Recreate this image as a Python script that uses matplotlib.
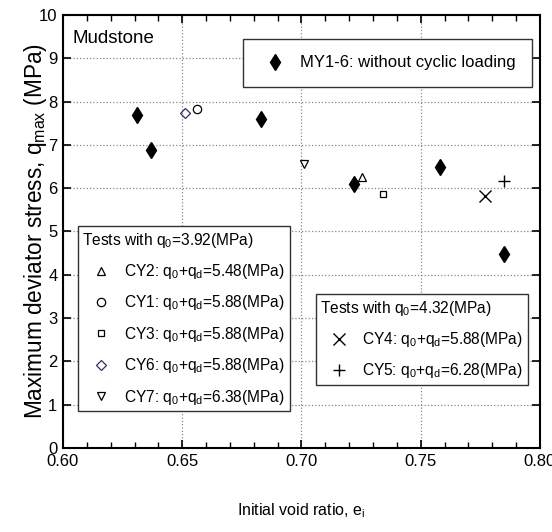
import matplotlib
matplotlib.use("Agg")

import matplotlib.pyplot as plt
from matplotlib.ticker import MultipleLocator, FormatStrFormatter

plt.rcParams["font.family"] = ["Liberation Sans", "DejaVu Sans"]
plt.rcParams["mathtext.fontset"] = "custom"
plt.rcParams["mathtext.rm"] = "Liberation Sans"
plt.rcParams["mathtext.it"] = "Liberation Sans"

# without cyclic loading (MY1-6)
my_void = [0.631, 0.637, 0.683, 0.722, 0.758, 0.785]
my_qmax = [7.68, 6.88, 7.60, 6.09, 6.50, 4.48]

# tests with q0 = 3.92 MPa
cy_a_labels = ["CY2: q$_0$+q$_d$=5.48(MPa)", "CY1: q$_0$+q$_d$=5.88(MPa)",
               "CY3: q$_0$+q$_d$=5.88(MPa)", "CY6: q$_0$+q$_d$=5.88(MPa)",
               "CY7: q$_0$+q$_d$=6.38(MPa)"]
cy_a_void = [0.7255, 0.656, 0.734, 0.651, 0.701]
cy_a_qmax = [6.25, 7.82, 5.86, 7.74, 6.57]
cy_a_markers = ["^", "o", "s", "D", "v"]
cy_a_colors = ["black", "black", "black", "#2e2e6e", "black"]

# tests with q0 = 4.32 MPa
cy_b_labels = ["CY4: q$_0$+q$_d$=5.88(MPa)", "CY5: q$_0$+q$_d$=6.28(MPa)"]
cy_b_void = [0.777, 0.785]
cy_b_qmax = [5.82, 6.17]
cy_b_markers = ["x", "+"]

fig = plt.figure(figsize=(5.52, 5.32), dpi=100)
ax = fig.add_axes([0.1141, 0.1579, 0.8641, 0.8139])

h_my, = ax.plot(my_void, my_qmax, linestyle="none", marker="d", markersize=8,
                color="black", label="MY1-6: without cyclic loading")

handles_a = []
for e, q, m, c, lab in zip(cy_a_void, cy_a_qmax, cy_a_markers, cy_a_colors, cy_a_labels):
    ms = 5 if m in ("D", "s") else 6
    h, = ax.plot([e], [q], linestyle="none", marker=m, markersize=ms,
                 markerfacecolor="none", markeredgecolor=c, markeredgewidth=0.9, label=lab)
    handles_a.append(h)

handles_b = []
for e, q, m, lab in zip(cy_b_void, cy_b_qmax, cy_b_markers, cy_b_labels):
    h, = ax.plot([e], [q], linestyle="none", marker=m, markersize=8,
                 color="black", markeredgewidth=1.0, label=lab)
    handles_b.append(h)

ax.set_xlim(0.60, 0.80)
ax.set_ylim(0, 10)
ax.xaxis.set_major_locator(MultipleLocator(0.05))
ax.xaxis.set_minor_locator(MultipleLocator(0.01))
ax.xaxis.set_major_formatter(FormatStrFormatter("%.2f"))
ax.yaxis.set_major_locator(MultipleLocator(1))
ax.tick_params(which="both", direction="in", top=True, right=True, labelsize=12, pad=4)
ax.tick_params(which="major", length=6, width=1.2)
ax.tick_params(which="minor", length=4, width=1.0)
for s in ax.spines.values():
    s.set_linewidth(1.5)
ax.grid(True, linestyle=":", color="#888888", linewidth=0.9)

ax.set_xlabel("Initial void ratio, e$_i$", fontsize=11.5)
ax.xaxis.set_label_coords(0.5, -0.123)
ax.set_ylabel("Maximum deviator stress, q$_{max}$ (MPa)", fontsize=16.3)
ax.yaxis.set_label_coords(-0.03, 0.5)

ax.text(0.02, 0.965, "Mudstone", transform=ax.transAxes, fontsize=13.5,
        ha="left", va="top")

leg_kw = dict(frameon=True, fancybox=False, edgecolor="#333333", framealpha=1,
              borderaxespad=0)

leg1 = ax.legend(handles=[h_my], loc="upper right", bbox_to_anchor=(0.983, 0.945),
                 fontsize=12, handlelength=1.9, handletextpad=0.5,
                 borderpad=1.0, **leg_kw)
leg1.get_frame().set_linewidth(1.0)
ax.add_artist(leg1)

leg2 = ax.legend(handles=handles_a, loc="upper left", bbox_to_anchor=(0.031, 0.513),
                 fontsize=11.2, title="Tests with q$_0$=3.92(MPa)", title_fontsize=11.2,
                 alignment="left", handlelength=2.4, handletextpad=0.3,
                 labelspacing=0.8, borderpad=0.3, **leg_kw)
leg2.get_frame().set_linewidth(1.0)
ax.add_artist(leg2)

leg3 = ax.legend(handles=handles_b, loc="upper left", bbox_to_anchor=(0.530, 0.356),
                 fontsize=11.2, title="Tests with q$_0$=4.32(MPa)", title_fontsize=11.2,
                 alignment="left", handlelength=2.4, handletextpad=0.3,
                 labelspacing=0.8, borderpad=0.3, **leg_kw)
leg3.get_frame().set_linewidth(1.0)

fig.savefig("out.png", dpi=100)
